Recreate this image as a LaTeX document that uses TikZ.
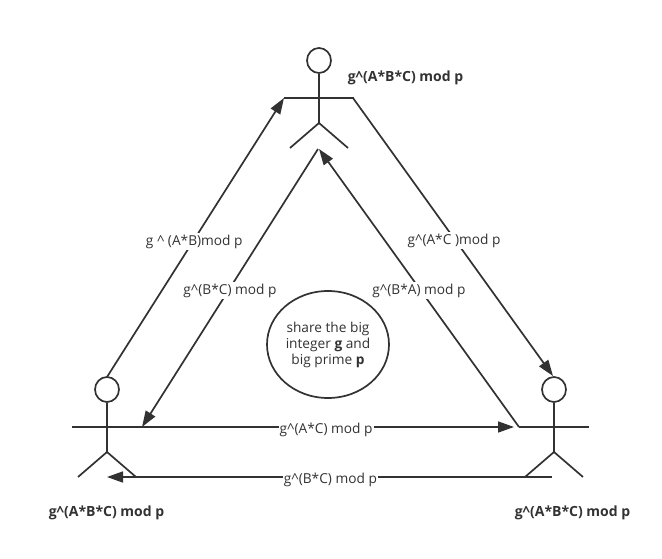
\documentclass[tikz,border=0pt]{standalone}
\usepackage{fontspec}
\setmainfont{Open Sans}
\usetikzlibrary{arrows.meta,shapes.geometric}
\definecolor{ink}{HTML}{323232}
\tikzset{
  line/.style={draw=ink,line width=1.7pt},
  flow/.style={line,-{Triangle[length=16pt,width=11pt]}},
  head/.style={draw=ink,line width=1.7pt,ellipse,minimum width=24pt,minimum height=25pt,inner sep=0pt},
  lab/.style={fill=white,text=ink,font=\fontsize{13.7}{16}\selectfont,inner xsep=1pt,inner ysep=0pt,minimum height=17pt,yshift=-2.5pt},
  boldlab/.style={text=ink,font=\fontsize{14}{16}\selectfont\bfseries,inner sep=0pt},
  share/.style={line,ellipse,minimum width=122pt,minimum height=107pt,inner sep=0pt,align=center,text=ink,font=\fontsize{13.7}{16}\selectfont}
}
\newcommand{\actor}[3]{%
  \node[head] (#1h) at (#2,#3) {};
  \coordinate (#1n) at (#2,#3+37.5);
  \coordinate (#1al) at (#2-35,#3+37.5);
  \coordinate (#1ar) at (#2+35,#3+37.5);
  \coordinate (#1c) at (#2,#3+62.5);
  \coordinate (#1ll) at (#2-29,#3+87.5);
  \coordinate (#1lr) at (#2+29,#3+87.5);
  \draw[line] (#1h.south) -- (#1c);
  \draw[line] (#1al) -- (#1ar);
  \draw[line] (#1ll) -- (#1c) -- (#1lr);
}
\begin{document}
\begin{tikzpicture}[x=1pt,y=-1pt]
\useasboundingbox (0,0) rectangle (662,559);
\actor{t}{319}{60.5}
\actor{l}{107}{389.5}
\actor{r}{554}{389.5}
\node[boldlab] (tt) at (405.5,77.5) {g\^{}(A*B*C) mod p};
\node[boldlab] (tl) at (106.5,512.5) {g\^{}(A*B*C) mod p};
\node[boldlab] (tr) at (572.5,512.5) {g\^{}(A*B*C) mod p};
\node[share] (s) at (328,344.5) {\raisebox{-1pt}{share the big}\\\raisebox{-1pt}{integer \textbf{g} and}\\\raisebox{-1pt}{big prime \textbf{p}}};
\coordinate (a1) at (107,377);
\coordinate (a2) at (284,98);
\coordinate (b1) at (353,98);
\coordinate (b2) at (553,376);
\coordinate (c1) at (318,149);
\coordinate (c2) at (142,427);
\coordinate (d1) at (519,427);
\coordinate (d2) at (319,149);
\coordinate (e1) at (142,427);
\coordinate (e2) at (514,427);
\coordinate (f1) at (552,477);
\coordinate (f2) at (107,477);
\draw[flow] (a1) -- (a2) node[lab,pos=0.493] {g \^{} (A*B)mod p};
\draw[flow] (b1) -- (b2) node[lab,pos=0.505] {g\^{}(A*C )mod p};
\draw[flow] (c1) -- (c2) node[lab,pos=0.5] {g\^{}(B*C) mod p};
\draw[flow] (d1) -- (d2) node[lab,pos=0.5] {g\^{}(B*A) mod p};
\draw[flow] (e1) -- (e2) node[lab,pos=0.495] {g\^{}(A*C) mod p};
\draw[flow] (f1) -- (f2) node[lab,pos=0.498] {g\^{}(B*C) mod p};
\end{tikzpicture}
\end{document}
